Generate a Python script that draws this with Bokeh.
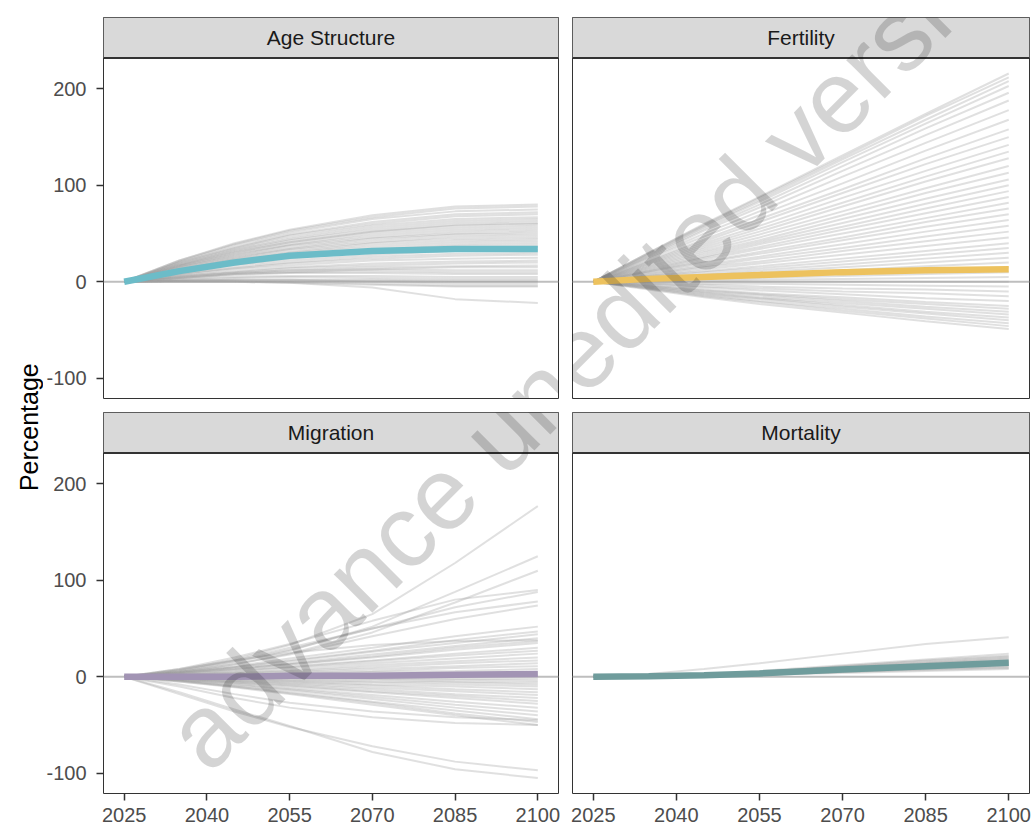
import math
from bokeh.models import Range1d, FixedTicker, Span, Label, GridBox, PrintfTickFormatter
from bokeh.plotting import figure
from bokeh.embed import file_html
from bokeh.resources import INLINE
from bokeh.core.properties import value

# ---------------- data ----------------
YEARS = [2025, 2035, 2045, 2055, 2070, 2085, 2100]
X_TICKS = [2025, 2040, 2055, 2070, 2085, 2100]
Y_TICKS = [-100, 0, 100, 200]
PANEL_NAMES = ["Age Structure", "Fertility", "Migration", "Mortality"]
Y_TITLE = "Percentage"

AGE_MAIN = [0, 11, 20, 27, 32, 34, 34]
AGE_LINES = [
    [0, 22, 40, 54, 69, 78, 80], [0, 22, 39, 53, 67, 76, 78], [0, 21, 38, 51, 65, 73, 75],
    [0, 20, 36, 49, 62, 70, 72], [0, 20, 35, 48, 60, 68, 70], [0, 19, 34, 46, 58, 65, 67],
    [0, 18, 33, 44, 56, 63, 65], [0, 18, 32, 43, 54, 61, 63], [0, 17, 31, 41, 52, 59, 61],
    [0, 17, 30, 41, 52, 58, 60], [0, 16, 29, 39, 50, 56, 58], [0, 16, 28, 38, 48, 54, 56],
    [0, 15, 27, 37, 46, 52, 54], [0, 15, 26, 35, 45, 50, 52], [0, 14, 25, 34, 43, 49, 50],
    [0, 13, 24, 33, 41, 47, 48], [0, 13, 23, 31, 40, 45, 46], [0, 12, 22, 30, 38, 43, 44],
    [0, 12, 21, 29, 36, 41, 42], [0, 11, 20, 27, 34, 39, 40], [0, 11, 19, 26, 33, 37, 38],
    [0, 10, 18, 24, 31, 35, 36], [0, 9, 17, 22, 28, 32, 33], [0, 8, 15, 20, 26, 29, 30],
    [0, 8, 14, 19, 24, 27, 28], [0, 7, 13, 17, 22, 24, 25], [0, 6, 11, 15, 19, 21, 22],
    [0, 6, 10, 14, 17, 19, 20], [0, 5, 9, 12, 15, 16, 17], [0, 4, 8, 10, 13, 15, 15],
    [0, 5, 9, 12, 13, 12, 12], [0, 4, 8, 10, 11, 10, 10], [0, 4, 7, 9, 9, 8, 8],
    [0, 3, 5, 6, 6, 5, 5], [0, 2, 4, 5, 4, 3, 3], [0, 1, 2, 2, 2, 1, 1],
    [0, 1, 1, 1, 1, 0, 0], [0, 1, 2, 2, 0, -2, -2], [0, 1, 1, 0, -2, -4, -4],
    [0, 0, 0, -1, -3, -5, -5], [0, 0, 0, -1, -6, -18, -22],
]

FERT_MAIN = [0, 3, 5, 7, 10, 12, 13]
FERT_LINES = [
    [0, 30, 60, 88, 131, 174, 216], [0, 30, 59, 87, 129, 172, 212], [0, 29, 58, 85, 127, 168, 208],
    [0, 28, 57, 83, 124, 164, 203], [0, 27, 55, 80, 120, 159, 196], [0, 26, 53, 77, 115, 152, 188],
    [0, 25, 50, 73, 109, 144, 178], [0, 24, 47, 69, 102, 136, 168], [0, 22, 44, 65, 96, 128, 158],
    [0, 21, 42, 62, 92, 122, 150], [0, 20, 40, 58, 87, 115, 142], [0, 19, 38, 55, 82, 109, 135],
    [0, 18, 36, 52, 78, 104, 128], [0, 17, 34, 49, 73, 97, 120], [0, 16, 32, 46, 69, 92, 113],
    [0, 15, 30, 43, 65, 86, 106], [0, 14, 28, 41, 61, 81, 100], [0, 13, 26, 39, 57, 76, 94],
    [0, 12, 25, 36, 54, 71, 88], [0, 11, 23, 34, 50, 66, 82], [0, 11, 21, 31, 46, 62, 76],
    [0, 10, 20, 29, 43, 57, 70], [0, 9, 18, 26, 39, 52, 64], [0, 8, 16, 24, 35, 47, 58],
    [0, 7, 15, 21, 32, 42, 52], [0, 6, 13, 19, 28, 37, 46], [0, 6, 11, 16, 24, 32, 40],
    [0, 5, 10, 14, 21, 28, 35], [0, 4, 8, 12, 18, 24, 30], [0, 4, 7, 10, 15, 20, 25],
    [0, 3, 6, 8, 12, 16, 20], [0, 2, 4, 6, 9, 12, 15], [0, 1, 3, 4, 6, 8, 10],
    [0, 1, 1, 2, 3, 4, 5], [0, 0, 0, 0, 0, 0, 0],
    [0, -1, -2, -2, -3, -4, -5], [0, -2, -3, -5, -7, -8, -10], [0, -2, -5, -7, -10, -12, -15],
    [0, -3, -6, -9, -13, -17, -20], [0, -4, -8, -12, -16, -21, -25], [0, -4, -9, -13, -18, -23, -28],
    [0, -5, -10, -14, -20, -26, -31], [0, -5, -11, -16, -22, -28, -34], [0, -6, -12, -17, -24, -31, -37],
    [0, -6, -13, -18, -26, -33, -40], [0, -7, -14, -20, -28, -36, -43], [0, -7, -15, -21, -30, -38, -46],
    [0, -8, -16, -23, -32, -41, -49],
]

MIG_MAIN = [0, 0, 0, 1, 1, 2, 3]
MIG_LINES = [
    [0, 7, 18, 33, 65, 118, 177], [0, 6, 15, 27, 52, 88, 125], [0, 5, 13, 24, 46, 77, 110],
    [0, 8, 20, 34, 58, 80, 90], [0, 6, 16, 28, 50, 72, 88], [0, 7, 17, 30, 50, 67, 78],
    [0, 5, 13, 23, 42, 60, 74], [0, 8, 17, 25, 33, 37, 38],
    [0, 5, 11, 19, 30, 42, 52], [0, 5, 10, 17, 27, 38, 47], [0, 4, 10, 16, 26, 35, 44],
    [0, 4, 9, 14, 23, 32, 40], [0, 4, 8, 13, 21, 30, 37], [0, 4, 8, 13, 20, 28, 35],
    [0, 3, 7, 11, 17, 24, 30], [0, 3, 6, 10, 16, 22, 27], [0, 2, 5, 9, 14, 19, 24],
    [0, 2, 4, 7, 12, 16, 20], [0, 2, 4, 6, 10, 14, 17], [0, 1, 3, 5, 8, 11, 14],
    [0, 1, 2, 4, 6, 9, 11], [0, 1, 2, 3, 5, 6, 8], [0, 1, 1, 2, 3, 4, 5],
    [0, 0, 1, 1, 2, 2, 3], [0, 0, 0, 0, 1, 1, 1], [0, 0, 0, -1, -1, -2, -2],
    [0, 0, -1, -1, -2, -3, -4], [0, -1, -1, -2, -3, -5, -6], [0, -1, -2, -3, -5, -6, -8],
    [0, -1, -2, -4, -6, -8, -10], [0, -1, -3, -5, -8, -10, -13], [0, -2, -4, -6, -9, -13, -16],
    [0, -2, -4, -7, -11, -15, -19], [0, -2, -5, -8, -13, -18, -22], [0, -3, -6, -9, -15, -20, -25],
    [0, -3, -6, -10, -16, -22, -28], [0, -3, -7, -12, -19, -26, -32], [0, -4, -8, -13, -21, -29, -36],
    [0, -4, -9, -14, -23, -32, -40], [0, -4, -10, -16, -26, -35, -44], [0, -5, -10, -17, -27, -38, -47],
    [0, -5, -11, -18, -29, -40, -50], [0, -10, -22, -32, -42, -48, -50], [0, -8, -18, -27, -36, -42, -45],
    [0, -18, -36, -52, -72, -88, -97], [0, -16, -34, -51, -78, -96, -105],
]

MORT_MAIN = [0, 0.5, 1.5, 3.5, 7.5, 11, 14.5]
MORT_LINES = [
    [0, 3, 8, 14, 24, 34, 41],
    [0, 1, 2, 6, 12, 18, 24], [0, 1, 2, 5, 11, 17, 22], [0, 1, 2, 5, 11, 16, 21],
    [0, 1, 2, 5, 10, 15, 20], [0, 1, 2, 5, 10, 14, 19], [0, 1, 2, 4, 9, 14, 18],
    [0, 1, 2, 4, 9, 13, 17], [0, 0, 2, 4, 8, 12, 16], [0, 0, 2, 4, 8, 11, 15],
    [0, 1, 2, 4, 8, 12, 15], [0, 0, 1, 3, 7, 11, 14], [0, 0, 1, 3, 7, 10, 13],
    [0, 0, 1, 3, 6, 10, 13], [0, 0, 1, 3, 6, 9, 12], [0, 0, 1, 3, 6, 8, 11],
    [0, 0, 1, 2, 5, 8, 10], [0, 0, 1, 2, 5, 7, 9], [0, 0, 1, 2, 4, 6, 8],
]

MAIN_COLORS = ["#6cbcc8", "#edc25e", "#a294b4", "#6f9c9c"]

# ---------------- styling / layout constants ----------------
FONT = "Liberation Sans"
GREY_LINE = "#a0a0a0"
FRAME_W, FRAME_H, STRIP_H = 457, 381, 40.5
PANEL_H = FRAME_H - STRIP_H

all_vals = [v for group in (AGE_LINES, FERT_LINES, MIG_LINES, MORT_LINES) for ln in group for v in ln]
ymin, ymax = min(all_vals), max(all_vals)
Y_LO = ymin - 0.05 * (ymax - ymin)
Y_HI = ymax + 0.05 * (ymax - ymin)
X_LO = YEARS[0] - 0.05 * (YEARS[-1] - YEARS[0])
X_HI = YEARS[-1] + 0.05 * (YEARS[-1] - YEARS[0])
STRIP_U = STRIP_H * (Y_HI - Y_LO) / PANEL_H
Y_TOP = Y_HI + STRIP_U

# watermark (page pixel anchor)
WM_TEXT = "advance unedited version"
WM_X, WM_Y, WM_ANGLE, WM_SIZE = 182, 750, 45, 103

# page positions of each column / row (page origin at 0,0)
LAB_W = 43
COL_X = {0: 43, 1: 565}
COL_W = {0: 522, 1: 470}
COL_BL = {0: 58, 1: 7}
COL_BR = {0: 7, 1: 6}
ROW_Y = {0: 0, 1: 404}
ROW_H = {0: 404, 1: 420}
ROW_BT = {0: 17, 1: 8}
ROW_BB = {0: 6, 1: 31}
TOTAL_H = ROW_H[0] + ROW_H[1]


def make_panel(name, lines, main, color, row, col):
    p = figure(width=COL_W[col], height=ROW_H[row],
               x_range=Range1d(X_LO, X_HI), y_range=Range1d(Y_LO, Y_TOP),
               output_backend="svg", toolbar_location=None, tools="",
               x_axis_location="below" if row == 1 else None,
               y_axis_location="left" if col == 0 else None,
               min_border_left=COL_BL[col], min_border_right=COL_BR[col],
               min_border_top=ROW_BT[row], min_border_bottom=ROW_BB[row],
               background_fill_color="white", border_fill_color="white",
               outline_line_color="#333333", outline_line_width=1)
    p.xgrid.grid_line_color = None
    p.ygrid.grid_line_color = None

    p.add_layout(Span(location=0, dimension="width", line_color="#bebebe",
                      line_width=2, level="underlay"))
    p.multi_line(xs=[YEARS] * len(lines), ys=lines, line_color=GREY_LINE,
                 line_alpha=0.32, line_width=2)
    p.line(YEARS, main, line_color=color, line_width=6.5)

    # facet strip
    p.quad(left=[X_LO], right=[X_HI], bottom=[Y_HI], top=[Y_TOP],
           fill_color="#d9d9d9", line_color=None)
    p.add_layout(Span(location=Y_HI, dimension="width", line_color="#333333",
                      line_width=2))
    p.text(x=[(X_LO + X_HI) / 2], y=[Y_HI + STRIP_U / 2], text=[name],
           text_align="center", text_baseline="middle", text_font=value(FONT),
           text_font_size="21px", text_color="#1a1a1a")

    for ax in p.axis:
        ax.axis_line_color = None
        ax.major_tick_line_color = "#333333"
        ax.major_tick_line_width = 1.5
        ax.major_tick_in = 0
        ax.minor_tick_line_color = None
        ax.major_label_text_font = FONT
        ax.major_label_text_font_size = "20px"
        ax.major_label_text_color = "#4d4d4d"
        ax.formatter = PrintfTickFormatter(format="%d")
    if row == 1:
        p.xaxis.ticker = FixedTicker(ticks=X_TICKS)
        p.xaxis.major_tick_out = 7
        p.xaxis.major_label_standoff = 7
    if col == 0:
        p.yaxis.ticker = FixedTicker(ticks=Y_TICKS)
        p.yaxis.major_tick_out = 7
        p.yaxis.major_label_standoff = 10

    # watermark piece, positioned in page coordinates
    fl = COL_X[col] + COL_BL[col]
    ft = ROW_Y[row] + ROW_BT[row]
    sx = (X_HI - X_LO) / FRAME_W
    sy = (Y_TOP - Y_LO) / FRAME_H
    p.add_layout(Label(x=X_LO + (WM_X - fl) * sx, y=Y_TOP - (WM_Y - ft) * sy,
                       text=WM_TEXT, angle=math.radians(WM_ANGLE),
                       text_font=FONT, text_font_size=f"{WM_SIZE}px",
                       text_color="black", text_alpha=0.17,
                       text_align="left", text_baseline="alphabetic"))
    return p


panels = []
for i, (name, lines, main) in enumerate(zip(
        PANEL_NAMES, [AGE_LINES, FERT_LINES, MIG_LINES, MORT_LINES],
        [AGE_MAIN, FERT_MAIN, MIG_MAIN, MORT_MAIN])):
    panels.append(make_panel(name, lines, main, MAIN_COLORS[i], i // 2, i % 2))

# y-axis title column
pl = figure(width=LAB_W, height=TOTAL_H, x_range=Range1d(0, LAB_W), y_range=Range1d(0, TOTAL_H),
            x_axis_location=None, y_axis_location=None, min_border=0,
            outline_line_color=None, toolbar_location=None, tools="",
            output_backend="svg", background_fill_color="white", border_fill_color="white")
pl.xgrid.grid_line_color = None
pl.ygrid.grid_line_color = None
pl.add_layout(Label(x=28.5, y=TOTAL_H - 435, text=Y_TITLE, angle=math.pi / 2,
                    text_align="center", text_baseline="middle", text_font=FONT,
                    text_font_size="25px", text_color="black"))

grid = GridBox(children=[(pl, 0, 0, 2, 1),
                         (panels[0], 0, 1), (panels[1], 0, 2),
                         (panels[2], 1, 1), (panels[3], 1, 2)], spacing=0)

open("out.html", "w").write(file_html(grid, INLINE, "chart"))
